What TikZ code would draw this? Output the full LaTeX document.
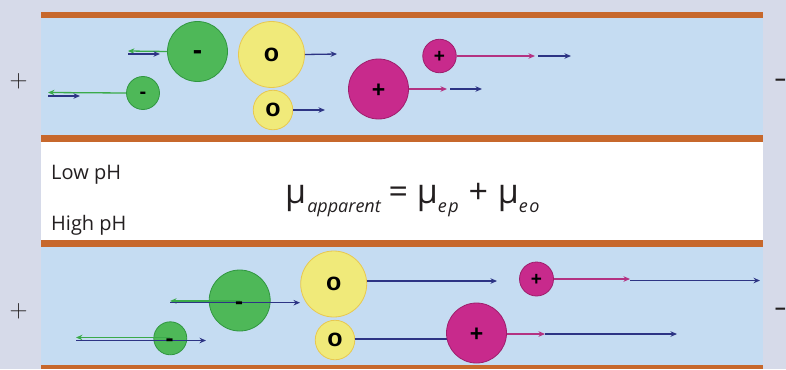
\documentclass[tikz,border=0pt]{standalone}
\usepackage{fontspec}
\setmainfont{Open Sans}
\newfontfamily\signfont{Liberation Sans}
\usetikzlibrary{arrows.meta}
\definecolor{bgc}{RGB}{214,218,233}
\definecolor{chblue}{RGB}{197,220,242}
\definecolor{orng}{RGB}{199,104,44}
\definecolor{gfill}{RGB}{78,184,88}
\definecolor{gdraw}{RGB}{48,150,64}
\definecolor{yfill}{RGB}{240,234,122}
\definecolor{ydraw}{RGB}{232,200,80}
\definecolor{mfill}{RGB}{200,42,140}
\definecolor{mdraw}{RGB}{158,30,108}
\definecolor{navy}{RGB}{45,52,132}
\definecolor{garrow}{RGB}{58,170,74}
\definecolor{marrow}{RGB}{180,50,130}
\definecolor{txt}{RGB}{35,31,32}
\newcommand\subtxt[1]{\raisebox{-9pt}{\fontsize{18}{18}\selectfont\itshape #1}}
\begin{document}
\begin{tikzpicture}[x=1pt,y=-1pt,
  particle/.style={circle, line width=0.8pt, inner sep=0pt},
  gp/.style={particle, fill=gfill, draw=gdraw},
  yp/.style={particle, fill=yfill, draw=ydraw},
  mp/.style={particle, fill=mfill, draw=mdraw},
  arr/.style={line width=1.3pt, -{Stealth[length=6.5pt,width=5.5pt]}},
  eoarr/.style={arr, draw=navy},
  epg/.style={arr, draw=garrow},
  epm/.style={arr, draw=marrow},
  sign/.style={inner sep=0pt, text=black, font=\signfont\bfseries\fontsize{#1}{#1}\selectfont},
  pole/.style={inner sep=0pt, text=txt, font=\fontsize{25.5}{25.5}\selectfont},
  minuspole/.style={inner sep=0pt, text=txt, font=\signfont\bfseries\fontsize{19}{19}\selectfont},
  phlabel/.style={anchor=base west, inner sep=0pt, text=txt, font=\fontsize{20}{20}\selectfont}]
\useasboundingbox (0,0) rectangle (786,369);
% background and channels
\fill[bgc] (0,0) rectangle (786,369);
\fill[white] (41,142) rectangle (763,240);
\fill[chblue] (41,18) rectangle (763,135);
\fill[orng] (41,12) rectangle (763,18);
\fill[orng] (41,135) rectangle (763,142);
\fill[chblue] (41,247) rectangle (763,365);
\fill[orng] (41,240) rectangle (763,247);
\fill[orng] (41,365) rectangle (763,369);
% poles
\node[pole] (plusT) at (18.5,81.5) {$+$};
\node[pole] (plusB) at (18.5,311.5) {$+$};
\node[minuspole] (minusT) at (780.5,83) {−};
\node[minuspole] (minusB) at (780.5,312) {−};
% labels
\node[phlabel] (low) at (51,179.3) {Low pH};
\node[phlabel] (high) at (51,230) {High pH};
\node[anchor=base west, inner sep=0pt, text=txt, font=\fontsize{34}{34}\selectfont] (eq) at (285,203)
  {μ\kern1pt\subtxt{apparent}\kern-1pt{} = μ\subtxt{e\kern1.5pt p\kern1pt}{} + \kern1pt μ\subtxt{e\kern1.5pt o}};
% ---------------- top channel (low pH)
\node[gp, minimum size=33pt] (tg1) at (143,93) {};
\node[gp, minimum size=60pt] (tg2) at (197.5,51.5) {};
\node[yp, minimum size=66pt] (ty1) at (271.5,54.5) {};
\node[yp, minimum size=39.5pt] (ty2) at (273,110) {};
\node[mp, minimum size=60pt] (tm1) at (378.5,89) {};
\node[mp, minimum size=33.5pt] (tm2) at (439.5,56) {};
\coordinate (tg1a) at (48,92.5);
\coordinate (tg1b) at (48,96);
\coordinate (tg1c) at (80,96);
\draw[epg] (tg1.west) -- (tg1a);
\draw[eoarr] (tg1b) -- (tg1c);
\coordinate (tg2a) at (128,51);
\coordinate (tg2b) at (128,54);
\coordinate (tg2c) at (160,54);
\draw[epg] (tg2.west) -- (tg2a);
\draw[eoarr] (tg2b) -- (tg2c);
\coordinate (ty1a) at (337,54);
\draw[eoarr] (ty1.east) -- (ty1a);
\coordinate (ty2a) at (325,110);
\draw[eoarr] (ty2.east) -- (ty2a);
\coordinate (tm1a) at (447,89);
\coordinate (tm1b) at (450,89);
\coordinate (tm1c) at (482,89);
\draw[epm] (tm1.east) -- (tm1a);
\draw[eoarr] (tm1b) -- (tm1c);
\coordinate (tm2a) at (535,56);
\coordinate (tm2b) at (538,56);
\coordinate (tm2c) at (571,56);
\draw[epm] (tm2.east) -- (tm2a);
\draw[eoarr] (tm2b) -- (tm2c);
% ---------------- bottom channel (high pH)
\node[gp, minimum size=33pt] (bg1) at (170.3,338.3) {};
\node[gp, minimum size=61pt] (bg2) at (239.7,300.5) {};
\coordinate (bg1o) at (170.3,337.5);
\coordinate (bg1a) at (76,337.5);
\coordinate (bg1b) at (76,340.5);
\coordinate (bg1c) at (206,340.5);
\draw[epg] (bg1o) -- (bg1a);
\draw[eoarr] (bg1b) -- (bg1c);
\coordinate (bg2o) at (239.7,301);
\coordinate (bg2a) at (170,301);
\coordinate (bg2b) at (170,302.7);
\coordinate (bg2c) at (300,302.7);
\draw[epg] (bg2o) -- (bg2a);
\draw[eoarr] (bg2b) -- (bg2c);
\node[yp, minimum size=66pt] (by1) at (333.7,284) {};
\node[yp, minimum size=39.5pt] (by2) at (335,340) {};
\coordinate (by1s) at (366.5,281);
\coordinate (by1a) at (497,281);
\draw[eoarr] (by1s) -- (by1a);
\coordinate (by2s) at (354.5,339);
\coordinate (by2a) at (485,339);
\draw[eoarr] (by2s) -- (by2a);
\node[mp, minimum size=60pt] (bm1) at (476.5,333) {};
\node[mp, minimum size=34pt] (bm2) at (536.5,279) {};
\coordinate (bm1s) at (506.5,334);
\coordinate (bm1a) at (545,334);
\coordinate (bm1c) at (677,334);
\draw[epm] (bm1s) -- (bm1a);
\draw[eoarr] (bm1a) -- (bm1c);
\coordinate (bm2a) at (630,279);
\coordinate (bm2b) at (630,280.5);
\coordinate (bm2c) at (760,280.5);
\draw[epm] (bm2.east) -- (bm2a);
\draw[eoarr] (bm2b) -- (bm2c);
% ---------------- signs
\node[sign=20, yshift=-2.3pt] (tg1s) at (tg1) {-};
\node[sign=28, yshift=-3.2pt] (tg2s) at (tg2) {-};
\node[sign=25] (ty1s) at (ty1) {o};
\node[sign=25] (ty2s) at (ty2) {o};
\node[sign=23, yshift=-1.3pt] (tm1s) at (tm1) {+};
\node[sign=19, yshift=-1pt] (tm2s) at (tm2) {+};
\node[sign=24, yshift=-2.7pt] (bg1s) at (169.5,340) {-};
\node[sign=24, yshift=-2.7pt] (bg2s) at (239,302.5) {-};
\node[sign=25] (by1s) at (by1) {o};
\node[sign=25] (by2s) at (by2) {o};
\node[sign=23, yshift=-1.3pt] (bm1s) at (bm1) {+};
\node[sign=19, yshift=-1pt] (bm2s) at (bm2) {+};
\end{tikzpicture}
\end{document}
